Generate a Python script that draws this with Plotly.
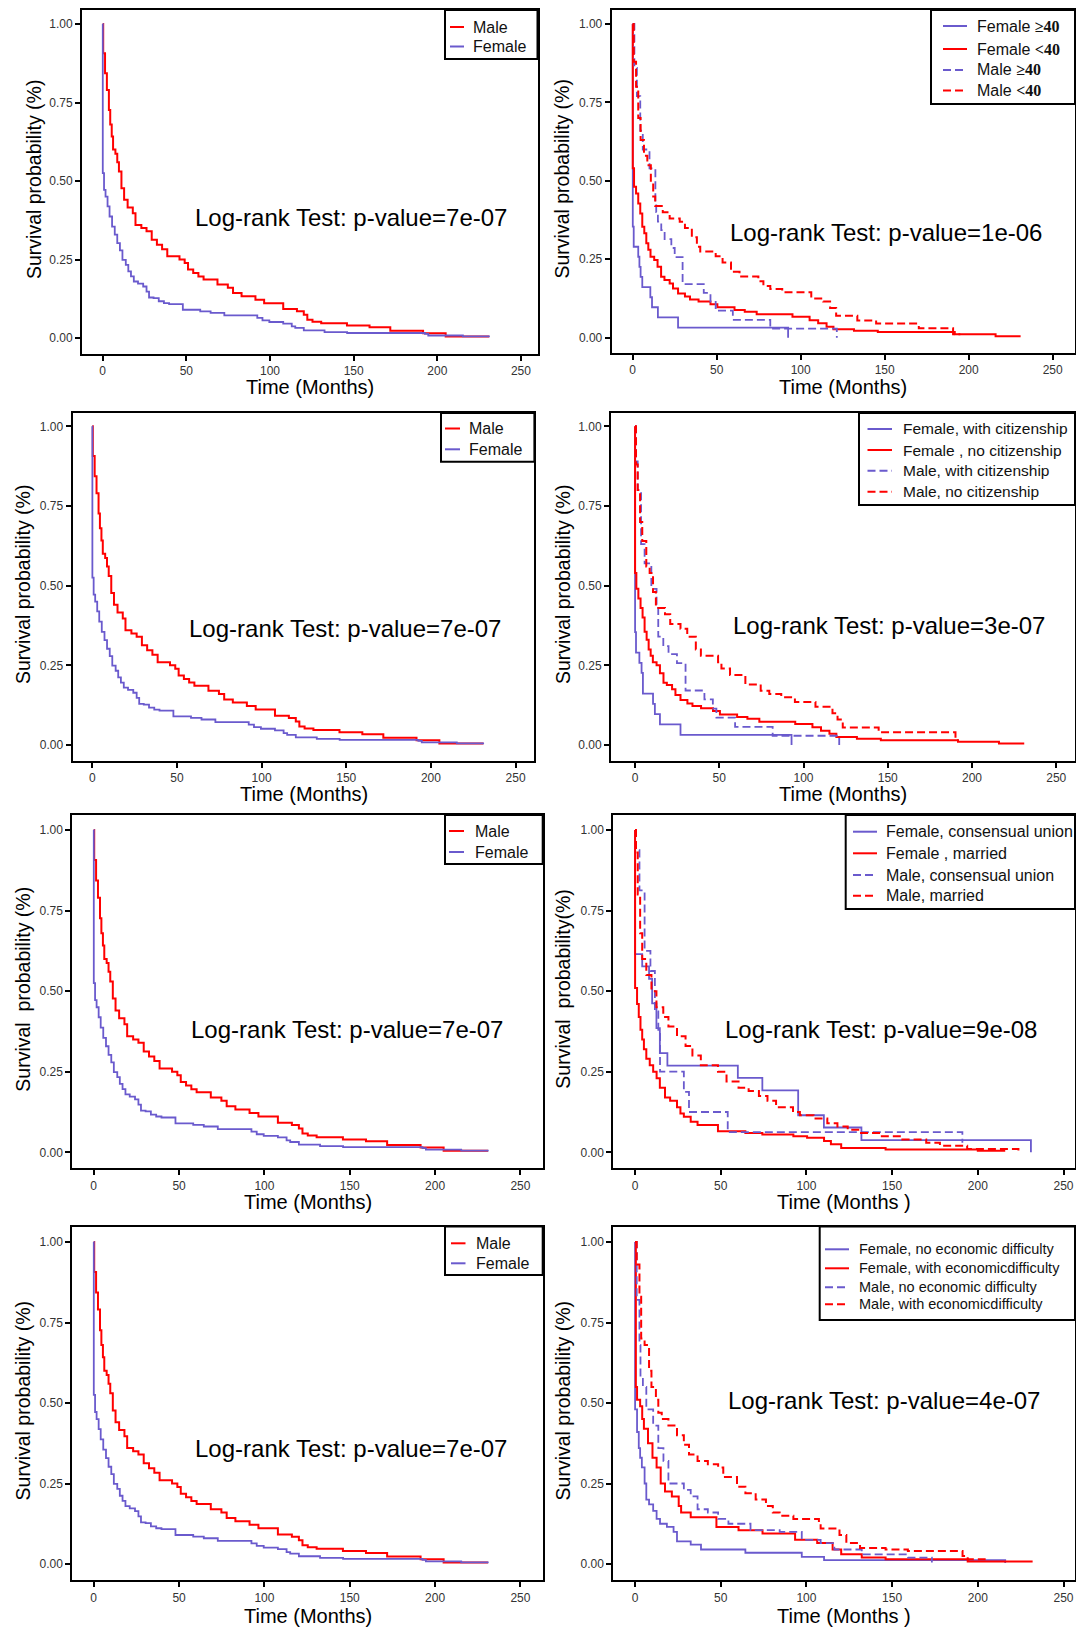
import plotly.graph_objects as go

# ---------------------------------------------------------------------------
# Kaplan-Meier step estimates: time (months) at which the estimate changes,
# and the survival probability from that time on.
# ---------------------------------------------------------------------------

# Male vs Female (left-hand panels)
male_time = [0, 0.3, 1.4, 2.5, 3.7, 4.5, 5.4, 6.2, 7.6, 8.7, 9.7, 11.2, 12.8, 14.9,
             18.0, 19.6, 23.1, 26.2, 29.3, 32.4, 35.5, 38.6, 45.9, 49.0, 51.0, 54.1,
             57.2, 60.3, 68.6, 74.8, 77.9, 83.0, 91.3, 96.5, 107.9, 116.1, 120.2,
             122.3, 125.4, 130.6, 146.0, 159.5, 171.9, 191.5, 205.0, 231.0]
male_surv = [1.0, 0.907, 0.843, 0.79, 0.726, 0.68, 0.642, 0.60, 0.587, 0.56, 0.53,
             0.477, 0.44, 0.416, 0.397, 0.36, 0.35, 0.34, 0.313, 0.297, 0.283, 0.26,
             0.25, 0.239, 0.218, 0.207, 0.196, 0.186, 0.17, 0.16, 0.143, 0.133,
             0.122, 0.111, 0.092, 0.085, 0.074, 0.058, 0.052, 0.047, 0.04, 0.034,
             0.023, 0.015, 0.005, 0.005]
female_time = [0, 0.05, 0.8, 1.7, 2.9, 4.1, 5.6, 7.2, 8.7, 10.3, 11.8, 13.8, 15.3,
               16.9, 18.6, 21.1, 24.2, 26.2, 27.7, 30.4, 33.5, 36.6, 39.7, 47.9, 58.3,
               64.5, 72.7, 92.4, 95.5, 99.6, 107.9, 113.0, 115.1, 120.2, 132.6, 146.1,
               192.6, 194.6, 215.3, 231.4]
female_surv = [1.0, 0.525, 0.472, 0.45, 0.419, 0.387, 0.355, 0.329, 0.302, 0.279,
               0.249, 0.233, 0.212, 0.196, 0.18, 0.173, 0.164, 0.148, 0.129, 0.127,
               0.117, 0.111, 0.108, 0.09, 0.085, 0.08, 0.072, 0.064, 0.056, 0.051,
               0.046, 0.037, 0.032, 0.024, 0.019, 0.016, 0.013, 0.008, 0.005, 0.005]

# Sex x age group
f_ge40_time = [0, 0.05, 0.6, 3.3, 4.0, 4.7, 5.7, 10.5, 11.5, 15.0, 27.0, 92.5]
f_ge40_surv = [1.0, 0.354, 0.29, 0.258, 0.226, 0.194, 0.161, 0.129, 0.097, 0.065, 0.032, 0.0]
f_lt40_time = [0, 0.05, 0.8, 2.0, 3.3, 4.5, 5.7, 6.9, 8.1, 9.3, 10.6, 12.8, 14.8, 16.9,
               18.9, 22.0, 24.0, 27.0, 31.1, 34.1, 39.2, 46.3, 50.4, 60.6, 66.7, 73.8,
               95.1, 105.3, 110.4, 115.4, 119.5, 131.7, 145.9, 191.7, 216.0, 230.9]
f_lt40_surv = [1.0, 0.54, 0.481, 0.46, 0.428, 0.396, 0.354, 0.333, 0.301, 0.28, 0.258,
               0.248, 0.226, 0.194, 0.184, 0.173, 0.157, 0.141, 0.131, 0.122, 0.115,
               0.107, 0.097, 0.088, 0.083, 0.075, 0.067, 0.056, 0.046, 0.035, 0.027,
               0.022, 0.018, 0.011, 0.005, 0.005]
m_ge40_time = [0, 1.0, 2.5, 4.5, 6.0, 10.0, 13.5, 14.0, 15.0, 17.0, 19.0, 23.0, 25.0,
               29.7, 42.3, 46.3, 49.4, 59.6, 81.9, 121.5]
m_ge40_surv = [1.0, 0.86, 0.77, 0.66, 0.60, 0.54, 0.43, 0.40, 0.37, 0.343, 0.314, 0.286,
               0.257, 0.171, 0.143, 0.114, 0.086, 0.057, 0.029, 0.0]
m_lt40_time = [0, 0.6, 2.0, 3.3, 4.7, 6.7, 8.7, 10.8, 12.2, 13.4, 17.9, 22.0, 28.0, 31.1,
               35.2, 38.2, 40.2, 49.4, 53.5, 58.5, 63.6, 74.8, 77.8, 81.9, 89.0, 106.3,
               113.4, 117.5, 121.1, 133.7, 144.9, 170.3, 190.7, 195.0]
m_lt40_surv = [1.0, 0.88, 0.80, 0.70, 0.63, 0.58, 0.55, 0.50, 0.45, 0.42, 0.40, 0.38,
               0.37, 0.35, 0.32, 0.29, 0.275, 0.26, 0.24, 0.21, 0.195, 0.18, 0.165,
               0.155, 0.145, 0.125, 0.115, 0.095, 0.07, 0.055, 0.045, 0.03, 0.011, 0.011]

# Sex x citizenship
f_cit_time = [0, 0.05, 0.6, 2.6, 3.9, 4.7, 10.7, 11.8, 14.8, 27.0, 92.9]
f_cit_surv = [1.0, 0.354, 0.29, 0.258, 0.226, 0.161, 0.129, 0.097, 0.065, 0.032, 0.0]
f_nocit_time = [0, 0.05, 0.8, 2.0, 3.3, 4.5, 5.7, 6.9, 8.1, 9.3, 10.6, 12.8, 14.8, 16.9,
                18.9, 22.0, 24.0, 27.0, 31.1, 34.1, 39.2, 46.3, 50.4, 60.6, 66.7, 73.8,
                95.1, 105.3, 110.4, 115.4, 119.5, 131.7, 145.9, 191.7, 216.0, 231.0]
f_nocit_surv = [1.0, 0.54, 0.49, 0.46, 0.43, 0.40, 0.355, 0.33, 0.30, 0.28, 0.26, 0.25,
                0.225, 0.195, 0.188, 0.175, 0.157, 0.141, 0.13, 0.122, 0.115, 0.107,
                0.096, 0.088, 0.082, 0.073, 0.066, 0.056, 0.045, 0.035, 0.025, 0.02,
                0.015, 0.01, 0.005, 0.005]
m_cit_time = [0, 0.6, 1.6, 3.6, 5.7, 9.7, 12.8, 13.8, 16.8, 19.9, 24.9, 30.0, 41.2, 46.2,
              48.3, 59.4, 81.7, 121.2]
m_cit_surv = [1.0, 0.89, 0.80, 0.63, 0.57, 0.49, 0.43, 0.34, 0.31, 0.285, 0.257, 0.171,
              0.143, 0.114, 0.086, 0.057, 0.029, 0.0]
m_nocit_time = [0, 0.6, 1.6, 3.0, 4.3, 6.7, 8.7, 10.7, 12.4, 17.8, 20.9, 27.0, 31.0, 36.1,
                39.1, 49.3, 51.3, 56.4, 65.5, 74.6, 79.7, 86.8, 94.9, 107.1, 117.2, 120.2,
                123.3, 144.6, 190.2, 192.0]
m_nocit_surv = [1.0, 0.88, 0.80, 0.70, 0.64, 0.56, 0.54, 0.48, 0.43, 0.41, 0.38, 0.365,
                0.34, 0.30, 0.28, 0.26, 0.24, 0.22, 0.19, 0.17, 0.16, 0.15, 0.135, 0.12,
                0.10, 0.08, 0.055, 0.04, 0.015, 0.015]

# Sex x marital status
f_cu_time = [0, 0.05, 4.2, 8.2, 10.0, 12.5, 14.5, 18.9, 60.0, 74.3, 95.2, 110.2, 132.1, 231.0]
f_cu_surv = [1.0, 0.615, 0.577, 0.538, 0.462, 0.385, 0.308, 0.269, 0.231, 0.192, 0.115,
             0.077, 0.038, 0.0]
f_mar_time = [0, 0.05, 1.2, 2.2, 3.2, 4.2, 5.2, 6.6, 8.6, 10.6, 12.6, 14.5, 17.5, 20.5,
              24.5, 26.5, 28.5, 32.5, 36.5, 48.4, 64.4, 74.3, 92.4, 100.4, 110.3, 114.3,
              120.3, 146.2, 200.0, 216.0]
f_mar_surv = [1.0, 0.51, 0.46, 0.42, 0.38, 0.35, 0.32, 0.29, 0.27, 0.25, 0.23, 0.20, 0.17,
              0.16, 0.14, 0.12, 0.11, 0.095, 0.085, 0.065, 0.06, 0.055, 0.05, 0.045,
              0.035, 0.025, 0.013, 0.009, 0.005, 0.005]
m_cu_time = [0, 0.6, 2.6, 5.6, 9.0, 11.6, 13.6, 14.6, 28.5, 31.5, 54.1, 191.0]
m_cu_surv = [1.0, 0.9375, 0.8125, 0.625, 0.5625, 0.4375, 0.375, 0.25, 0.1875, 0.125,
             0.0625, 0.03]
m_mar_time = [0, 0.6, 1.6, 3.0, 4.2, 6.6, 9.6, 12.5, 16.5, 19.5, 24.5, 29.5, 33.5, 38.4,
              48.4, 53.4, 60.4, 66.3, 72.3, 77.3, 82.3, 92.2, 96.2, 104.2, 112.2, 118.1,
              124.1, 131.1, 144.0, 156.0, 169.9, 177.9, 193.8, 223.7]
m_mar_surv = [1.0, 0.93, 0.80, 0.68, 0.60, 0.55, 0.50, 0.45, 0.42, 0.39, 0.36, 0.33, 0.30,
              0.27, 0.25, 0.22, 0.20, 0.19, 0.175, 0.16, 0.14, 0.125, 0.115, 0.105, 0.09,
              0.08, 0.07, 0.06, 0.05, 0.04, 0.03, 0.02, 0.01, 0.005]

# Sex x economic difficulty
f_noeco_time = [0, 0.05, 1.2, 2.2, 3.0, 4.0, 5.6, 6.6, 8.2, 10.6, 12.6, 14.6, 18.6, 22.5,
                24.5, 32.5, 38.5, 64.4, 97.3, 110.3, 216.0]
f_noeco_surv = [1.0, 0.48, 0.41, 0.36, 0.33, 0.30, 0.25, 0.20, 0.185, 0.165, 0.14, 0.125,
                0.115, 0.10, 0.07, 0.06, 0.045, 0.035, 0.022, 0.012, 0.003]
f_eco_time = [0, 0.5, 1.2, 3.0, 4.2, 5.2, 7.6, 10.2, 12.6, 15.0, 17.5, 21.5, 25.5, 26.9,
              32.5, 47.5, 60.4, 74.4, 93.4, 106.3, 115.3, 120.3, 132.3, 146.2, 194.1, 231.4]
f_eco_surv = [1.0, 0.55, 0.51, 0.49, 0.45, 0.42, 0.375, 0.33, 0.30, 0.25, 0.225, 0.21,
              0.18, 0.16, 0.145, 0.115, 0.105, 0.095, 0.075, 0.065, 0.045, 0.03, 0.02,
              0.015, 0.008, 0.005]
m_noeco_time = [0, 1.0, 2.6, 3.2, 4.6, 6.6, 10.6, 13.6, 16.6, 19.5, 28.5, 32.5, 36.5,
                42.5, 48.5, 54.5, 67.4, 84.4, 97.3, 108.3, 116.3, 132.3, 159.2, 173.2]
m_noeco_surv = [1.0, 0.82, 0.68, 0.58, 0.55, 0.48, 0.43, 0.36, 0.32, 0.25, 0.23, 0.21,
                0.17, 0.16, 0.14, 0.125, 0.105, 0.10, 0.075, 0.065, 0.045, 0.03, 0.02, 0.005]
m_eco_time = [0, 1.0, 2.6, 3.6, 5.6, 8.2, 9.6, 12.2, 13.6, 15.6, 19.5, 24.5, 28.5, 31.5,
              36.5, 42.5, 48.5, 51.5, 59.5, 64.4, 70.4, 76.4, 80.4, 84.4, 92.4, 107.3,
              108.3, 119.3, 123.3, 131.3, 146.2, 159.2, 191.1, 194.1, 204.0, 206.0]
m_eco_surv = [1.0, 0.93, 0.83, 0.70, 0.68, 0.60, 0.55, 0.51, 0.47, 0.45, 0.43, 0.40,
              0.37, 0.34, 0.32, 0.31, 0.30, 0.27, 0.24, 0.22, 0.20, 0.18, 0.16, 0.15,
              0.14, 0.125, 0.11, 0.09, 0.065, 0.05, 0.045, 0.04, 0.025, 0.015, 0.01, 0.01]

x_ticks = [0, 50, 100, 150, 200, 250]
y_ticks = [0.0, 0.25, 0.50, 0.75, 1.0]
y_tick_labels = ["0.00", "0.25", "0.50", "0.75", "1.00"]
p_values = ["7e-07", "1e-06", "7e-07", "3e-07", "7e-07", "9e-08", "7e-07", "4e-07"]

# ---------------------------------------------------------------------------
# Styling
# ---------------------------------------------------------------------------
W, H = 1076, 1627
RED = "#FF0000"
PURPLE = "#6A5ACD"
SANS = "Liberation Sans, Arial, sans-serif"
DASH = "8px,4px"
GE = "<b><span style='font-family:Liberation Serif'>\u226540</span></b>"
LT = "<b><span style='font-family:Liberation Serif'>&lt;40</span></b>"


def fx(x):
    return x / W


def fy(y):
    return 1 - y / H


sex_curves = [
    ("Male", male_time, male_surv, RED, "solid"),
    ("Female", female_time, female_surv, PURPLE, "solid"),
]

# Each panel: frame box in pixels, where x=0 / y=0 / y=1 fall, pixels per
# month, curves, legend geometry, text positions.
panels = [
    dict(box=(82, 10, 537.5, 354), x0=102.7, kx=1.673, y1=24, y0=338,
         curves=sex_curves,
         legend=dict(box=(445, 10, 537.5, 59), ys=[27, 46.5], sx=(450, 464), tx=471, size=16),
         ylab="Survival probability (%)", xlab="Time (Months)",
         ytitle_x=34, xtitle_y=386.5, note=(350.7, 217)),
    dict(box=(611.7, 10, 1075, 353), x0=632.7, kx=1.68, y1=24, y0=337.7,
         curves=[("Female " + GE, f_ge40_time, f_ge40_surv, PURPLE, "solid"),
                 ("Female " + LT, f_lt40_time, f_lt40_surv, RED, "solid"),
                 ("Male " + GE, m_ge40_time, m_ge40_surv, PURPLE, DASH),
                 ("Male " + LT, m_lt40_time, m_lt40_surv, RED, DASH)],
         legend=dict(box=(931, 10, 1075, 104), ys=[26, 49, 70, 90.5], sx=(943, 967), tx=975, size=16),
         ylab="Survival probability (%)", xlab="Time (Months)",
         ytitle_x=562, xtitle_y=386.5, note=(886, 232.4)),
    dict(box=(72.6, 413, 534.4, 761), x0=92.3, kx=1.693, y1=426.3, y0=745,
         curves=sex_curves,
         legend=dict(box=(441, 413, 534.4, 461.7), ys=[428.5, 449.3], sx=(445, 460), tx=467, size=16),
         ylab="Survival probability (%)", xlab="Time (Months)",
         ytitle_x=23, xtitle_y=794, note=(344.5, 628.8)),
    dict(box=(611, 413, 1075, 761), x0=635, kx=1.685, y1=426.3, y0=745,
         curves=[("Female, with citizenship", f_cit_time, f_cit_surv, PURPLE, "solid"),
                 ("Female , no citizenship", f_nocit_time, f_nocit_surv, RED, "solid"),
                 ("Male, with citizenship", m_cit_time, m_cit_surv, PURPLE, DASH),
                 ("Male, no citizenship", m_nocit_time, m_nocit_surv, RED, DASH)],
         legend=dict(box=(859, 413, 1075, 505), ys=[429, 450, 470.7, 491.7], sx=(867.5, 892), tx=900.6, size=15.5),
         ylab="Survival probability (%)", xlab="Time (Months)",
         ytitle_x=563, xtitle_y=794, note=(888.7, 625.7)),
    dict(box=(72.3, 815, 542.7, 1168.3), x0=93.7, kx=1.707, y1=830, y0=1152.3,
         curves=sex_curves,
         legend=dict(box=(445, 815, 542.7, 864), ys=[831, 852], sx=(449, 464), tx=473, size=16),
         ylab="Survival\u00a0\u00a0probability (%)", xlab="Time (Months)",
         ytitle_x=23, xtitle_y=1201.5, note=(346.6, 1029.3)),
    dict(box=(613.3, 815, 1075, 1168.3), x0=635, kx=1.714, y1=830, y0=1152.3,
         curves=[("Female, consensual union", f_cu_time, f_cu_surv, PURPLE, "solid"),
                 ("Female , married", f_mar_time, f_mar_surv, RED, "solid"),
                 ("Male, consensual union", m_cu_time, m_cu_surv, PURPLE, DASH),
                 ("Male, married", m_mar_time, m_mar_surv, RED, DASH)],
         legend=dict(box=(845.7, 815, 1075, 909), ys=[831.7, 853.3, 875, 895.7], sx=(853, 877), tx=884, size=16),
         ylab="Survival\u00a0\u00a0probability(%)", xlab="Time (Months )",
         ytitle_x=563, xtitle_y=1201.5, note=(881, 1029.3)),
    dict(box=(72.3, 1226.5, 542.7, 1580.3), x0=93.7, kx=1.707, y1=1242, y0=1564,
         curves=sex_curves,
         legend=dict(box=(445, 1226.5, 542.7, 1275), ys=[1243.3, 1263.3], sx=(451, 465.5), tx=473.5, size=16),
         ylab="Survival probability (%)", xlab="Time (Months)",
         ytitle_x=23, xtitle_y=1615.5, note=(350.7, 1448.5)),
    dict(box=(613.3, 1226.5, 1075, 1580.3), x0=635, kx=1.714, y1=1242, y0=1564,
         curves=[("Female, no economic difficulty", f_noeco_time, f_noeco_surv, PURPLE, "solid"),
                 ("Female, with economicdifficulty", f_eco_time, f_eco_surv, RED, "solid"),
                 ("Male, no economic difficulty", m_noeco_time, m_noeco_surv, PURPLE, DASH),
                 ("Male, with economicdifficulty", m_eco_time, m_eco_surv, RED, DASH)],
         legend=dict(box=(819.7, 1226.5, 1075, 1320), ys=[1249.3, 1268.3, 1287.3, 1304.3], sx=(825, 849), tx=857, size=14.5),
         ylab="Survival probability (%)", xlab="Time (Months )",
         ytitle_x=563, xtitle_y=1615.5, note=(883.5, 1400.8)),
]

fig = go.Figure()
shapes = []
annotations = []
layout = dict(width=W, height=H, margin=dict(l=0, r=0, t=0, b=0),
              paper_bgcolor="white", plot_bgcolor="white", showlegend=False,
              font=dict(family=SANS, color="black"))

axis_style = dict(showline=True, linecolor="black", linewidth=2, mirror=True,
                  ticks="outside", ticklen=5, tickwidth=2, tickcolor="black",
                  showgrid=False, zeroline=False, fixedrange=True,
                  tickfont=dict(family=SANS, size=12, color="#333333"))

for i, p in enumerate(panels):
    n = i + 1
    sfx = "" if n == 1 else str(n)
    left, top, right, bottom = p["box"]
    ky = p["y0"] - p["y1"]
    layout["xaxis" + sfx] = dict(
        domain=[fx(left), fx(right)],
        range=[(left - p["x0"]) / p["kx"], (right - p["x0"]) / p["kx"]],
        tickvals=x_ticks, ticktext=[str(v) for v in x_ticks],
        anchor="y" + sfx, **axis_style)
    layout["yaxis" + sfx] = dict(
        domain=[fy(bottom), fy(top)],
        range=[(p["y0"] - bottom) / ky, (p["y0"] - top) / ky],
        tickvals=y_ticks, ticktext=y_tick_labels,
        anchor="x" + sfx, **axis_style)

    for name, t, s, color, dash in p["curves"]:
        fig.add_trace(go.Scatter(
            x=t, y=s, mode="lines", name=name,
            line=dict(shape="hv", color=color, width=2 if color == RED else 1.8, dash=dash),
            xaxis="x" + sfx, yaxis="y" + sfx, hoverinfo="skip"))

    # legend box with line keys
    lg = p["legend"]
    bx0, by0, bx1, by1 = lg["box"]
    shapes.append(dict(type="rect", xref="paper", yref="paper",
                       x0=fx(bx0), x1=fx(bx1), y0=fy(by1), y1=fy(by0),
                       line=dict(color="black", width=2), fillcolor="white", layer="above"))
    for (name, t, s, color, dash), yy in zip(p["curves"], lg["ys"]):
        shapes.append(dict(type="line", xref="paper", yref="paper",
                           x0=fx(lg["sx"][0]), x1=fx(lg["sx"][1]), y0=fy(yy), y1=fy(yy),
                           line=dict(color=color, width=2, dash=dash), layer="above"))
        annotations.append(dict(text=name, xref="paper", yref="paper",
                                x=fx(lg["tx"]), y=fy(yy), xanchor="left", yanchor="middle",
                                showarrow=False,
                                font=dict(family=SANS, size=lg["size"], color="#111111")))

    # axis titles
    annotations.append(dict(text=p["xlab"], xref="paper", yref="paper",
                            x=fx((left + right) / 2), y=fy(p["xtitle_y"]),
                            xanchor="center", yanchor="middle", showarrow=False,
                            font=dict(family=SANS, size=20, color="black")))
    annotations.append(dict(text=p["ylab"], xref="paper", yref="paper",
                            x=fx(p["ytitle_x"]), y=fy((top + bottom) / 2 - 2),
                            xanchor="center", yanchor="middle", textangle=-90,
                            showarrow=False,
                            font=dict(family=SANS, size=19.5, color="black")))
    # log-rank test result
    annotations.append(dict(text="Log-rank Test: p-value=" + p_values[i],
                            xref="paper", yref="paper",
                            x=fx(p["note"][0]), y=fy(p["note"][1]),
                            xanchor="center", yanchor="middle", showarrow=False,
                            font=dict(family=SANS, size=24, color="black")))

layout["shapes"] = shapes
layout["annotations"] = annotations
fig.update_layout(**layout)
fig.write_html("out.html")
